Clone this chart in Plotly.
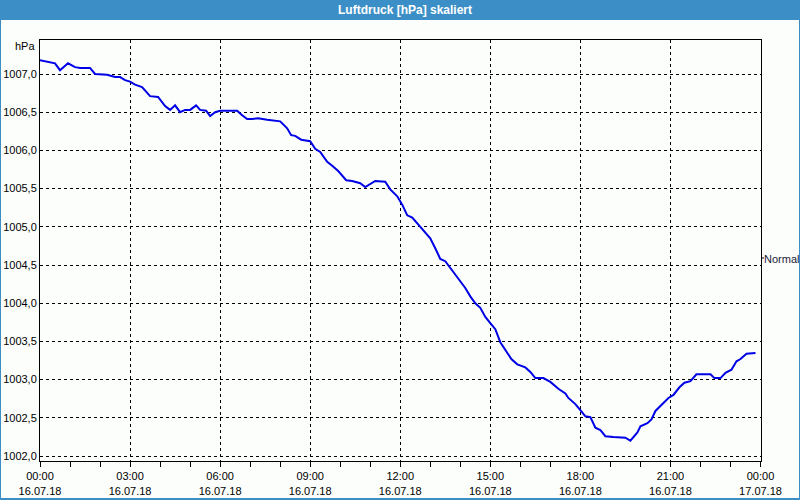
import pandas as pd
import plotly.graph_objects as go

# ---- data -----------------------------------------------------------------
day = "2018-07-16"
times = ["00:00", "00:14", "00:30", "00:40", "00:56", "01:10", "01:20", "01:40", "01:50", "02:14",
         "02:30", "02:40", "02:50", "03:00", "03:10", "03:24", "03:40", "03:56", "04:10", "04:20",
         "04:30", "04:40", "04:50", "05:00", "05:12", "05:20", "05:32", "05:40", "05:50", "06:00",
         "06:34", "06:44", "06:54", "07:04", "07:16", "07:34", "08:00", "08:14", "08:22", "08:30",
         "08:42", "09:00", "09:10", "09:20", "09:34", "09:44", "09:56", "10:12", "10:24", "10:40",
         "10:50", "11:10", "11:30", "11:40", "11:54", "12:04", "12:14", "12:24", "12:40", "13:00",
         "13:10", "13:20", "13:30", "13:44", "13:50", "14:00", "14:10", "14:20", "14:30", "14:40",
         "14:50", "15:00", "15:10", "15:20", "15:30", "15:42", "15:54", "16:10", "16:20", "16:30",
         "16:46", "17:00", "17:16", "17:30", "17:36", "17:50", "18:00", "18:10", "18:20", "18:30",
         "18:40", "18:50", "19:06", "19:30", "19:40", "19:46", "19:54", "20:00", "20:14", "20:22",
         "20:30", "20:44", "20:56", "21:06", "21:18", "21:28", "21:40", "21:52", "22:20", "22:28",
         "22:40", "22:50", "23:02", "23:12", "23:20", "23:32", "23:44", "23:50"]
pressure = [1007.18, 1007.16, 1007.14, 1007.05, 1007.14, 1007.09, 1007.08, 1007.08, 1007.00, 1006.99,
            1006.96, 1006.96, 1006.92, 1006.90, 1006.86, 1006.83, 1006.71, 1006.70, 1006.58, 1006.53,
            1006.59, 1006.50, 1006.53, 1006.53, 1006.59, 1006.53, 1006.52, 1006.45, 1006.50, 1006.52,
            1006.52, 1006.46, 1006.41, 1006.41, 1006.42, 1006.40, 1006.38, 1006.29, 1006.20, 1006.19,
            1006.14, 1006.12, 1006.02, 1005.98, 1005.85, 1005.80, 1005.73, 1005.61, 1005.60, 1005.57,
            1005.52, 1005.60, 1005.59, 1005.49, 1005.40, 1005.29, 1005.15, 1005.12, 1005.00, 1004.85,
            1004.72, 1004.58, 1004.55, 1004.43, 1004.37, 1004.30, 1004.20, 1004.09, 1004.00, 1003.94,
            1003.82, 1003.74, 1003.66, 1003.49, 1003.39, 1003.27, 1003.20, 1003.16, 1003.10, 1003.02,
            1003.02, 1002.97, 1002.88, 1002.82, 1002.76, 1002.68, 1002.60, 1002.52, 1002.51, 1002.37,
            1002.34, 1002.26, 1002.25, 1002.24, 1002.20, 1002.25, 1002.31, 1002.39, 1002.43, 1002.48,
            1002.59, 1002.68, 1002.76, 1002.80, 1002.90, 1002.96, 1002.98, 1003.07, 1003.07, 1003.02,
            1003.02, 1003.09, 1003.13, 1003.24, 1003.27, 1003.34, 1003.35, 1003.35]

tick_times = ["2018-07-16 00:00", "2018-07-16 03:00", "2018-07-16 06:00", "2018-07-16 09:00",
              "2018-07-16 12:00", "2018-07-16 15:00", "2018-07-16 18:00", "2018-07-16 21:00",
              "2018-07-17 00:00"]
tick_labels = ["00:00<br>16.07.18", "03:00<br>16.07.18", "06:00<br>16.07.18", "09:00<br>16.07.18",
               "12:00<br>16.07.18", "15:00<br>16.07.18", "18:00<br>16.07.18", "21:00<br>16.07.18",
               "00:00<br>17.07.18"]
y_ticks = [1002.0, 1002.5, 1003.0, 1003.5, 1004.0, 1004.5, 1005.0, 1005.5, 1006.0, 1006.5, 1007.0]

title_text = "Luftdruck [hPa] skaliert"
unit_text = "hPa"
legend_text = "Normal"

# ---- figure ----------------------------------------------------------------
x = pd.to_datetime([f"{day} {t}" for t in times])

W, H = 800, 500
ML, MR, MT, MB = 40, 39, 40, 39
pw, ph = W - ML - MR, H - MT - MB


def px(xp):
    return (xp - ML) / pw


def py(yp):
    return (H - MB - yp) / ph


BLUE = "#3c8fc6"
BG = "#fcfefc"
FONT = "Liberation Sans, Arial, sans-serif"

fig = go.Figure()
fig.add_trace(go.Scatter(x=x, y=pressure, mode="lines",
                         line=dict(color="#0000e6", width=2), showlegend=False,
                         hoverinfo="skip"))

fig.update_layout(
    width=W, height=H,
    margin=dict(l=ML, r=MR, t=MT, b=MB, autoexpand=False),
    paper_bgcolor=BG, plot_bgcolor=BG,
    separators=",.",
    font=dict(family=FONT, size=11, color="#000000"),
    showlegend=False,
)

fig.update_xaxes(
    type="date", automargin=False,
    range=["2018-07-16 00:00", "2018-07-17 00:01"],
    tickmode="array", tickvals=tick_times, ticktext=tick_labels,
    ticks="outside", ticklen=5, tickcolor="#000000",
    minor=dict(dtick=3600000, ticks="outside", ticklen=5, tickcolor="#000000", showgrid=False),
    showgrid=True, gridcolor="#000000", gridwidth=1, griddash="3px,3px",
    showline=True, linecolor="#000000", linewidth=1, mirror=True,
    zeroline=False, tickfont=dict(family=FONT, size=11, color="#000000"),
)
fig.update_yaxes(
    automargin=False,
    range=[1001.935, 1007.445],
    tickmode="array", tickvals=y_ticks, tickformat=".1f",
    ticks="", showgrid=True, gridcolor="#000000", gridwidth=1, griddash="3px,3px",
    showline=True, linecolor="#000000", linewidth=1, mirror=True,
    zeroline=False, tickfont=dict(family=FONT, size=11, color="#000000"),
)

shapes = [
    # title bar
    dict(type="rect", xref="paper", yref="paper", x0=px(0), x1=px(W), y0=py(20), y1=py(0),
         fillcolor=BLUE, line=dict(width=0), layer="above"),
    # window border left / right / bottom
    dict(type="rect", xref="paper", yref="paper", x0=px(0), x1=px(1), y0=py(H), y1=py(0),
         fillcolor=BLUE, line=dict(width=0), layer="above"),
    dict(type="rect", xref="paper", yref="paper", x0=px(W - 1), x1=px(W), y0=py(H), y1=py(0),
         fillcolor=BLUE, line=dict(width=0), layer="above"),
    dict(type="rect", xref="paper", yref="paper", x0=px(0), x1=px(W), y0=py(H), y1=py(H - 2),
         fillcolor=BLUE, line=dict(width=0), layer="above"),
    # legend tick at right
    dict(type="line", xref="paper", yref="paper", x0=1.0, x1=px(764), y0=py(258), y1=py(258),
         line=dict(color="#000000", width=1), layer="above"),
]
fig.update_layout(shapes=shapes)

fig.add_annotation(text=f"<b>{title_text}</b>", xref="paper", yref="paper",
                   x=px(405), y=py(10), xanchor="center", yanchor="middle", showarrow=False,
                   font=dict(family=FONT, size=12, color="#ffffff"))
fig.add_annotation(text=unit_text, xref="paper", yref="paper",
                   x=px(37), y=py(46), xanchor="right", yanchor="middle", showarrow=False,
                   font=dict(family=FONT, size=11, color="#000000"))
fig.add_annotation(text=legend_text, xref="paper", yref="paper",
                   x=px(764), y=py(259), xanchor="left", yanchor="middle", showarrow=False,
                   xshift=-2, font=dict(family=FONT, size=11, color="#1a1a3a"))

fig.write_html("out.html")
